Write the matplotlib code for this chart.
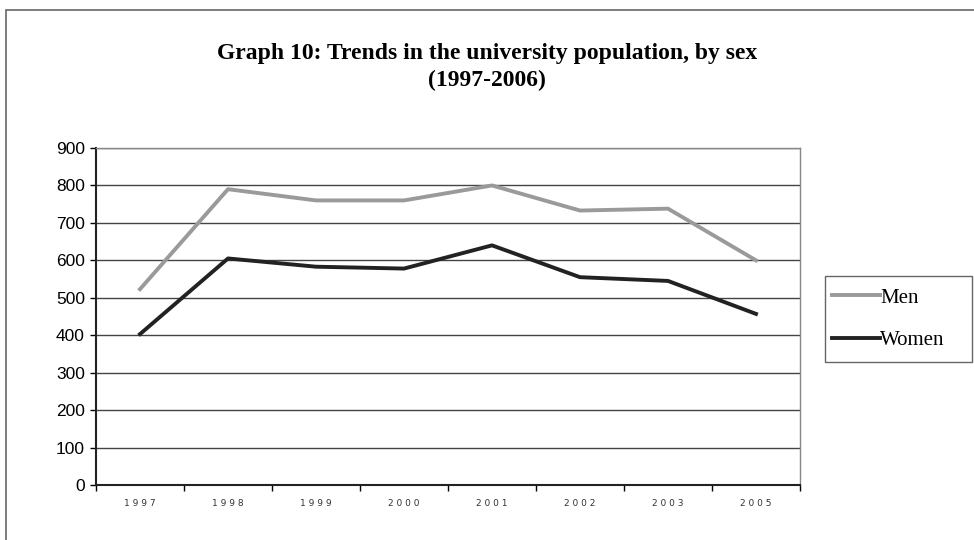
import numpy as np
import matplotlib.pyplot as plt
from matplotlib.patches import Rectangle

# data
years = ['1997', '1998', '1999', '2000', '2001', '2002', '2003', '2005']
men = [523, 790, 760, 760, 800, 733, 738, 600]
women = [403, 605, 583, 578, 640, 555, 545, 457]

fig = plt.figure(figsize=(9.74, 5.4), dpi=100)

# outer frame (runs off the right and bottom edge like the scan)
fig.patches.append(Rectangle((6 / 974, -0.05), 1.2, 1 - 10 / 540 + 0.05,
                             transform=fig.transFigure, fill=False,
                             edgecolor='#666666', linewidth=1.2))

fig.text(0.5, 1 - 53 / 540, 'Graph 10: Trends in the university population, by sex',
         ha='center', va='center', family='Liberation Serif',
         fontweight='bold', fontsize=17)
fig.text(0.5, 1 - 80 / 540, '(1997-2006)', ha='center', va='center',
         family='Liberation Serif', fontweight='bold', fontsize=17)

ax = fig.add_axes([96 / 974, 1 - 485 / 540, (800 - 96) / 974, (485 - 148) / 540])

x = np.arange(len(years))
ax.plot(x, men, color='#9a9a9a', linewidth=2.8, label='Men')
ax.plot(x, women, color='#222222', linewidth=2.8, label='Women')

ax.set_xlim(-0.5, len(years) - 0.5)
ax.set_ylim(0, 900)
ax.set_yticks(range(0, 901, 100))
ax.tick_params(axis='y', labelsize=12.5, length=4, width=1, pad=4)
for t in ax.get_yticklabels():
    t.set_family('Liberation Sans')
ax.grid(axis='y', color='#444444', linewidth=1)
ax.set_axisbelow(True)

ax.set_xticks(x)
ax.set_xticklabels([' '.join(y) for y in years], fontsize=6.5, color='#333333')
ax.tick_params(axis='x', length=0, pad=10)
ax.set_xticks(np.arange(-0.5, len(years)), minor=True)
ax.tick_params(axis='x', which='minor', length=4, width=1)

for s in ['left', 'bottom']:
    ax.spines[s].set_color('#222222')
    ax.spines[s].set_linewidth(1.5)
for s in ['top', 'right']:
    ax.spines[s].set_color('#888888')
    ax.spines[s].set_linewidth(1)

# legend box drawn separately, entries placed inside it
fig.patches.append(Rectangle((825 / 974, 1 - 362 / 540), 147 / 974, 86 / 540,
                             transform=fig.transFigure, fill=False,
                             edgecolor='#666666', linewidth=1))
fig.legend(loc='upper left', bbox_to_anchor=(832 / 974, 1 - 288 / 540),
           frameon=False, prop={'family': 'Liberation Serif', 'size': 15},
           handlelength=2.3, handletextpad=0, labelspacing=1.1,
           borderpad=0, borderaxespad=0)

fig.savefig('out.png', dpi=100)
